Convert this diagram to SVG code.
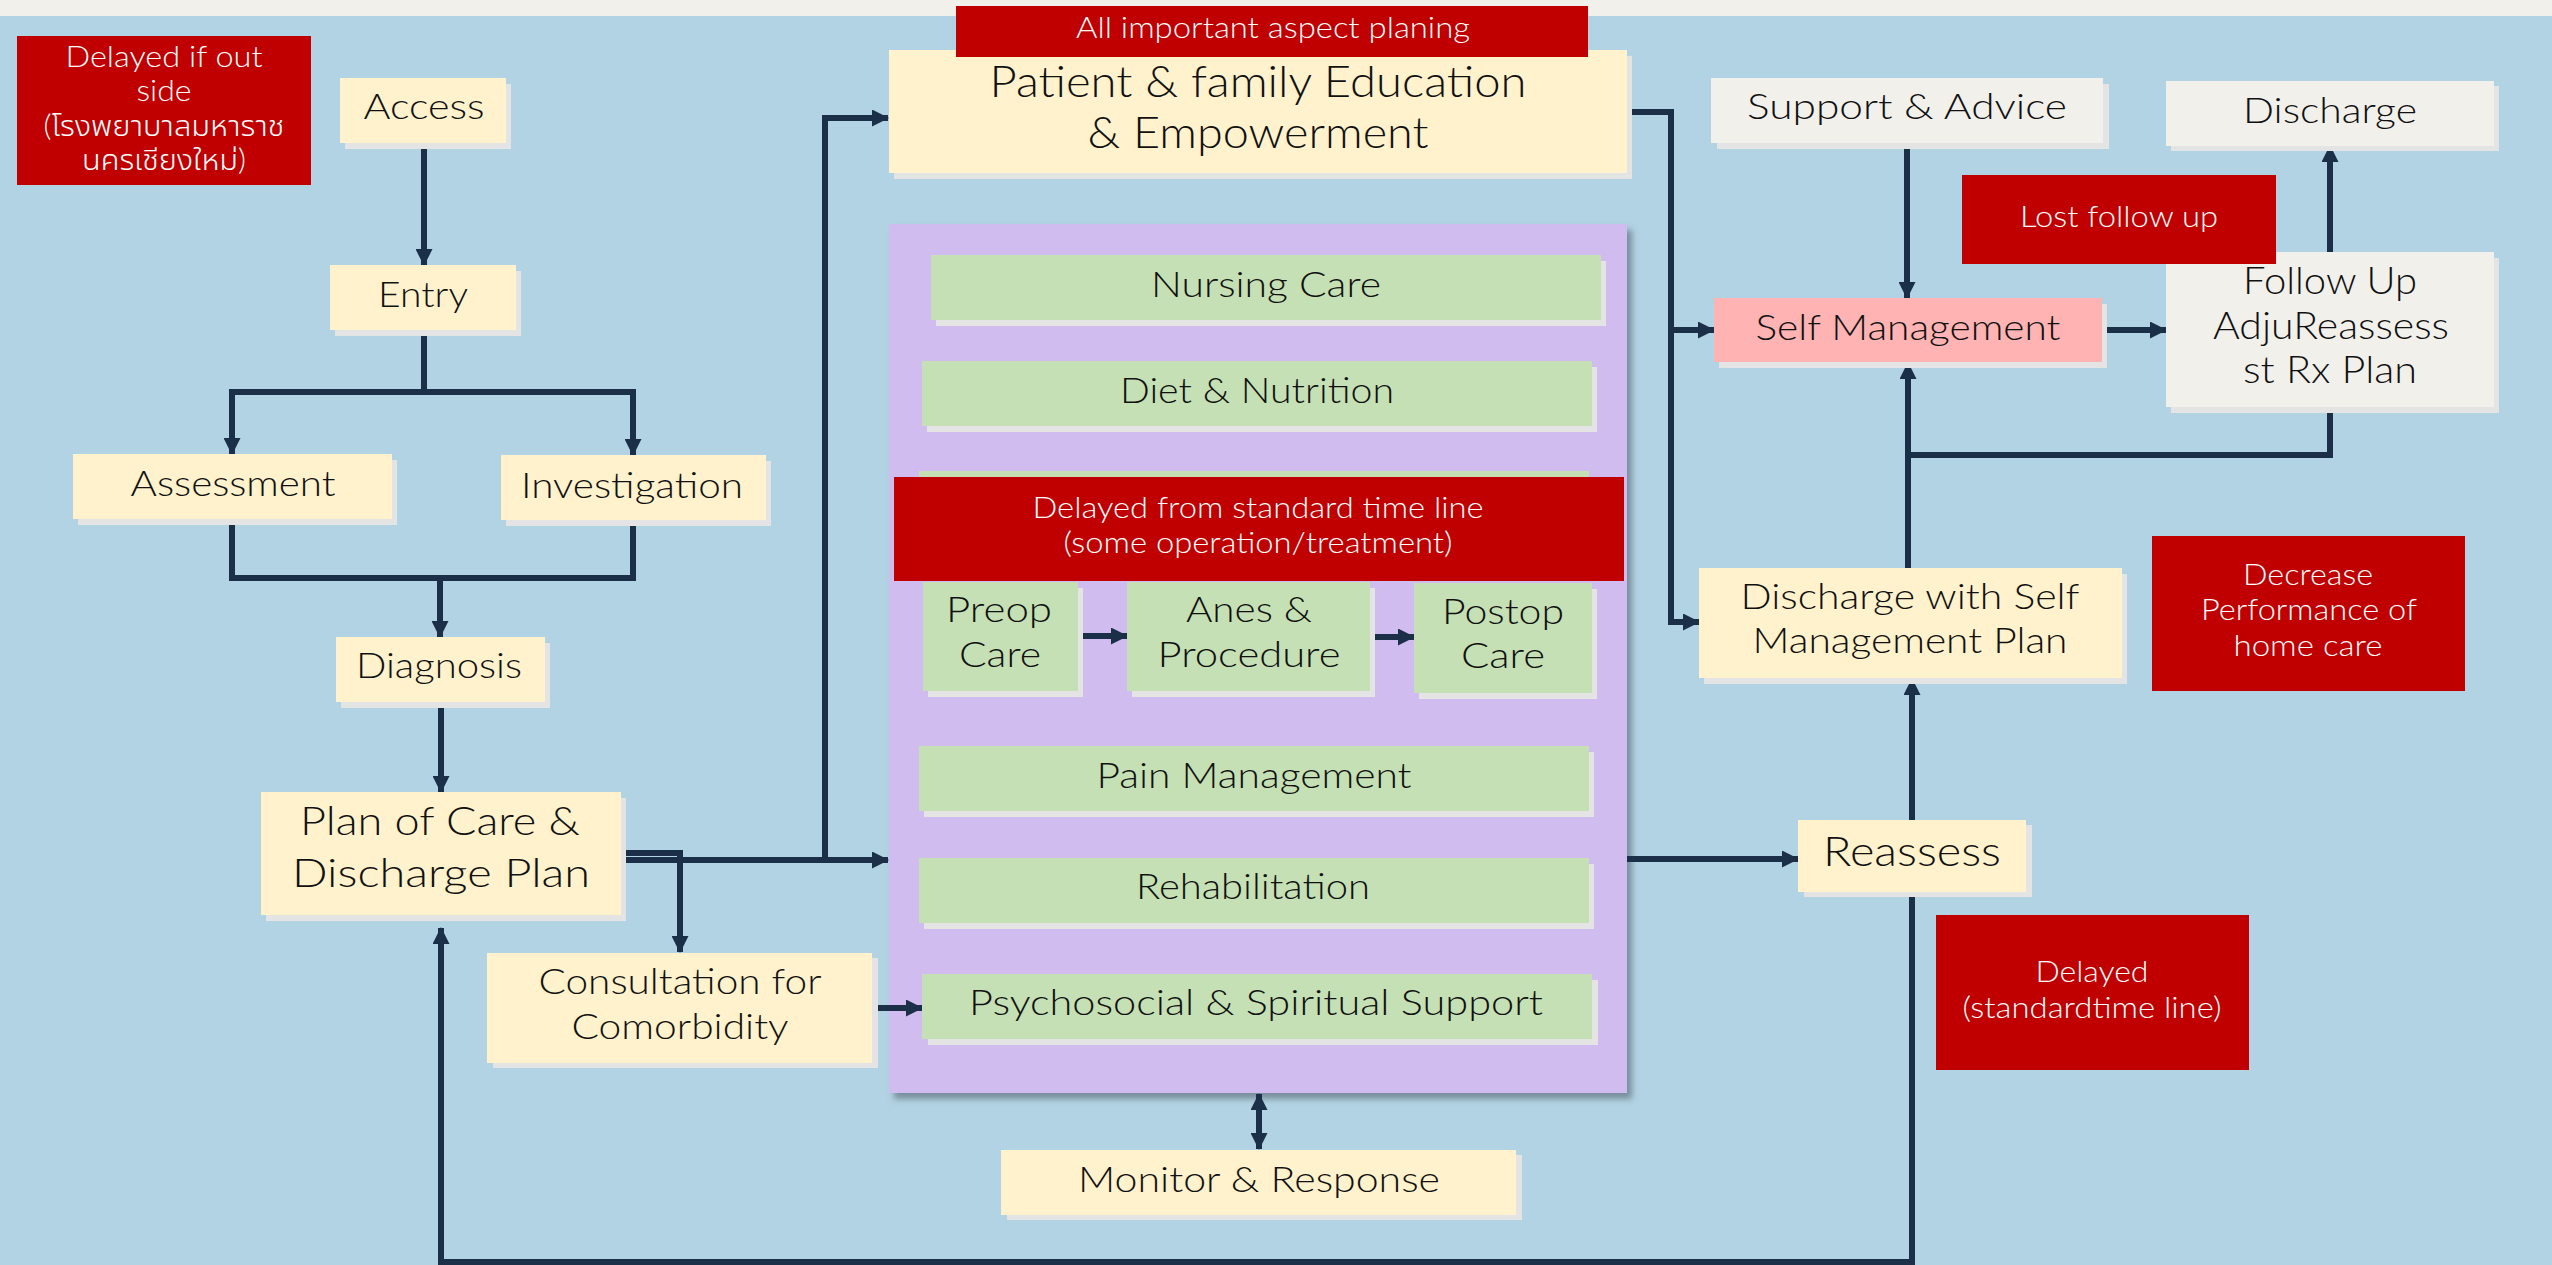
<svg xmlns="http://www.w3.org/2000/svg" width="2552" height="1265" viewBox="0 0 2552 1265">
  <style>
    .bg { fill: #B2D3E3; }
    .shadow { fill: #E4E4E4; }
    .cream { fill: #FFF2CC; }
    .green { fill: #C5E0B4; }
    .offwhite { fill: #F2F0EB; }
    .pink { fill: #FFB3B3; }
    .alert { fill: #C00000; }
    .purple { fill: #D1BCEF; }
    text { font-family: Lato, Roboto, "Noto Sans Thai", "Noto Sans", "DejaVu Sans", sans-serif; font-weight: 300; text-anchor: middle; }
    .t { fill: #111111; font-size: 36px; }
    .w { fill: #FFFFFF; font-size: 29px; }
    .conn { fill: none; stroke: #1B2F48; stroke-width: 6; }
  </style>
  <defs>
    <marker id="arrow" viewBox="0 0 17 17" refX="16" refY="8.5" markerWidth="17" markerHeight="17" markerUnits="userSpaceOnUse" orient="auto-start-reverse">
      <path d="M0,0 L17,8.5 L0,17 Z" fill="#1B2F48"/>
    </marker>
    <filter id="panelShadow" x="-5%" y="-5%" width="115%" height="115%">
      <feDropShadow dx="5" dy="6" stdDeviation="3" flood-color="#4A5560" flood-opacity="0.55"/>
    </filter>
  </defs>

  <!-- page -->
  <rect class="bg" x="0" y="0" width="2552" height="1265"/>
  <rect class="offwhite" x="0" y="0" width="2552" height="16"/>

  <!-- care activities panel -->
  <g id="care-panel">
    <rect class="purple" x="889" y="224" width="738" height="869" filter="url(#panelShadow)"/>
  </g>

  <!-- connectors -->
  <g id="connectors">
    <path class="conn" d="M424,143 V265" marker-end="url(#arrow)"/>
    <path class="conn" d="M424,330 V392 H232 V454" marker-end="url(#arrow)"/>
    <path class="conn" d="M424,392 H633 V455" marker-end="url(#arrow)"/>
    <path class="conn" d="M232,519 V578 H633 V520"/>
    <path class="conn" d="M440,578 V637" marker-end="url(#arrow)"/>
    <path class="conn" d="M441,702 V792" marker-end="url(#arrow)"/>
    <path class="conn" d="M621,853 H680 V952" marker-end="url(#arrow)"/>
    <path class="conn" d="M621,860 H888" marker-end="url(#arrow)"/>
    <path class="conn" d="M825,860 V118 H888" marker-end="url(#arrow)"/>
    <path class="conn" d="M872,1008 H922" marker-end="url(#arrow)"/>
    <path class="conn" d="M1078,636 H1127" marker-end="url(#arrow)"/>
    <path class="conn" d="M1370,637 H1414" marker-end="url(#arrow)"/>
    <path class="conn" d="M1259,1094 V1149" marker-start="url(#arrow)" marker-end="url(#arrow)"/>
    <path class="conn" d="M1627,112 H1671 V622 H1699" marker-end="url(#arrow)"/>
    <path class="conn" d="M1671,330 H1714" marker-end="url(#arrow)"/>
    <path class="conn" d="M1627,859 H1798" marker-end="url(#arrow)"/>
    <path class="conn" d="M1912,820 V679" marker-end="url(#arrow)"/>
    <path class="conn" d="M1908,568 V363" marker-end="url(#arrow)"/>
    <path class="conn" d="M2330,407 V455 H1908"/>
    <path class="conn" d="M1907,143 V298" marker-end="url(#arrow)"/>
    <path class="conn" d="M2102,330 H2166" marker-end="url(#arrow)"/>
    <path class="conn" d="M2330,252 V146" marker-end="url(#arrow)"/>
    <path class="conn" d="M1912,892 V1262 H441 V928" marker-end="url(#arrow)"/>
  </g>

  <!-- pathway nodes -->
  <g id="access">
    <rect class="shadow" x="345" y="84" width="166" height="65"/>
    <rect class="cream" x="340" y="78" width="166" height="65"/>
    <text class="t" x="424" y="119" textLength="121" lengthAdjust="spacingAndGlyphs">Access</text>
  </g>
  <g id="entry">
    <rect class="shadow" x="335" y="271" width="186" height="65"/>
    <rect class="cream" x="330" y="265" width="186" height="65"/>
    <text class="t" x="423" y="307" textLength="90" lengthAdjust="spacingAndGlyphs">Entry</text>
  </g>
  <g id="assessment">
    <rect class="shadow" x="78" y="460" width="319" height="65"/>
    <rect class="cream" x="73" y="454" width="319" height="65"/>
    <text class="t" x="233" y="496" textLength="205" lengthAdjust="spacingAndGlyphs">Assessment</text>
  </g>
  <g id="investigation">
    <rect class="shadow" x="506" y="461" width="265" height="65"/>
    <rect class="cream" x="501" y="455" width="265" height="65"/>
    <text class="t" x="632" y="498" textLength="222" lengthAdjust="spacingAndGlyphs">Investigation</text>
  </g>
  <g id="diagnosis">
    <rect class="shadow" x="341" y="643" width="209" height="65"/>
    <rect class="cream" x="336" y="637" width="209" height="65"/>
    <text class="t" x="439" y="678" textLength="166" lengthAdjust="spacingAndGlyphs">Diagnosis</text>
  </g>
  <g id="plan-of-care">
    <rect class="shadow" x="266" y="798" width="360" height="123"/>
    <rect class="cream" x="261" y="792" width="360" height="123"/>
    <text class="t" x="440" y="835" style="font-size:39px" textLength="280" lengthAdjust="spacingAndGlyphs">Plan of Care &amp;</text>
    <text class="t" x="441" y="887" style="font-size:39px" textLength="298" lengthAdjust="spacingAndGlyphs">Discharge Plan</text>
  </g>
  <g id="consultation">
    <rect class="shadow" x="493" y="958" width="385" height="110"/>
    <rect class="cream" x="487" y="953" width="385" height="110"/>
    <text class="t" x="680" y="994" textLength="283" lengthAdjust="spacingAndGlyphs">Consultation for</text>
    <text class="t" x="680" y="1039" textLength="217" lengthAdjust="spacingAndGlyphs">Comorbidity</text>
  </g>
  <g id="education">
    <rect class="shadow" x="894" y="56" width="738" height="123"/>
    <rect class="cream" x="889" y="50" width="738" height="123"/>
    <text class="t" x="1258" y="97" style="font-size:44px" textLength="537" lengthAdjust="spacingAndGlyphs">Patient &amp; family Education</text>
    <text class="t" x="1258" y="148" style="font-size:44px" textLength="341" lengthAdjust="spacingAndGlyphs">&amp; Empowerment</text>
  </g>

  <!-- activities inside the panel -->
  <g id="nursing-care">
    <rect class="shadow" x="936" y="261" width="670" height="65"/>
    <rect class="green" x="931" y="255" width="670" height="65"/>
    <text class="t" x="1266" y="297" textLength="230" lengthAdjust="spacingAndGlyphs">Nursing Care</text>
  </g>
  <g id="diet-nutrition">
    <rect class="shadow" x="927" y="367" width="670" height="65"/>
    <rect class="green" x="922" y="361" width="670" height="65"/>
    <text class="t" x="1257" y="403" textLength="274" lengthAdjust="spacingAndGlyphs">Diet &amp; Nutrition</text>
  </g>
  <g id="hidden-activity">
    <rect class="shadow" x="924" y="477" width="670" height="65"/>
    <rect class="green" x="919" y="471" width="670" height="65"/>
  </g>
  <g id="preop-care">
    <rect class="shadow" x="928" y="588" width="155" height="109"/>
    <rect class="green" x="923" y="582" width="155" height="109"/>
    <text class="t" x="999" y="622" textLength="106" lengthAdjust="spacingAndGlyphs">Preop</text>
    <text class="t" x="1000" y="667" textLength="82" lengthAdjust="spacingAndGlyphs">Care</text>
  </g>
  <g id="anes-procedure">
    <rect class="shadow" x="1132" y="588" width="243" height="109"/>
    <rect class="green" x="1127" y="582" width="243" height="109"/>
    <text class="t" x="1249" y="622" textLength="126" lengthAdjust="spacingAndGlyphs">Anes &amp;</text>
    <text class="t" x="1249" y="667" textLength="183" lengthAdjust="spacingAndGlyphs">Procedure</text>
  </g>
  <g id="postop-care">
    <rect class="shadow" x="1419" y="589" width="178" height="110"/>
    <rect class="green" x="1414" y="583" width="178" height="110"/>
    <text class="t" x="1503" y="624" textLength="122" lengthAdjust="spacingAndGlyphs">Postop</text>
    <text class="t" x="1503" y="668" textLength="84" lengthAdjust="spacingAndGlyphs">Care</text>
  </g>
  <g id="pain-management">
    <rect class="shadow" x="924" y="752" width="670" height="65"/>
    <rect class="green" x="919" y="746" width="670" height="65"/>
    <text class="t" x="1254" y="788" textLength="315" lengthAdjust="spacingAndGlyphs">Pain Management</text>
  </g>
  <g id="rehabilitation">
    <rect class="shadow" x="924" y="864" width="670" height="65"/>
    <rect class="green" x="919" y="858" width="670" height="65"/>
    <text class="t" x="1253" y="899" textLength="234" lengthAdjust="spacingAndGlyphs">Rehabilitation</text>
  </g>
  <g id="psychosocial">
    <rect class="shadow" x="928" y="980" width="670" height="65"/>
    <rect class="green" x="922" y="974" width="670" height="65"/>
    <text class="t" x="1256" y="1015" textLength="574" lengthAdjust="spacingAndGlyphs">Psychosocial &amp; Spiritual Support</text>
  </g>
  <g id="monitor-response">
    <rect class="shadow" x="1007" y="1155" width="515" height="65"/>
    <rect class="cream" x="1001" y="1150" width="515" height="65"/>
    <text class="t" x="1259" y="1192" textLength="362" lengthAdjust="spacingAndGlyphs">Monitor &amp; Response</text>
  </g>

  <!-- discharge side -->
  <g id="support-advice">
    <rect class="shadow" x="1717" y="84" width="392" height="65"/>
    <rect class="offwhite" x="1711" y="78" width="392" height="65"/>
    <text class="t" x="1907" y="119" textLength="320" lengthAdjust="spacingAndGlyphs">Support &amp; Advice</text>
  </g>
  <g id="discharge">
    <rect class="shadow" x="2171" y="86" width="328" height="65"/>
    <rect class="offwhite" x="2166" y="81" width="328" height="65"/>
    <text class="t" x="2330" y="123" textLength="174" lengthAdjust="spacingAndGlyphs">Discharge</text>
  </g>
  <g id="self-management">
    <rect class="shadow" x="1719" y="304" width="388" height="64"/>
    <rect class="pink" x="1714" y="298" width="388" height="64"/>
    <text class="t" x="1908" y="340" textLength="305" lengthAdjust="spacingAndGlyphs">Self Management</text>
  </g>
  <g id="follow-up">
    <rect class="shadow" x="2171" y="258" width="328" height="155"/>
    <rect class="offwhite" x="2166" y="252" width="328" height="155"/>
    <text class="t" x="2330" y="294" style="font-size:38px" textLength="174" lengthAdjust="spacingAndGlyphs">Follow Up</text>
    <text class="t" x="2331" y="339" style="font-size:38px" textLength="236" lengthAdjust="spacingAndGlyphs">AdjuReassess</text>
    <text class="t" x="2330" y="383" style="font-size:38px" textLength="174" lengthAdjust="spacingAndGlyphs">st Rx Plan</text>
  </g>
  <g id="discharge-self-management-plan">
    <rect class="shadow" x="1704" y="574" width="423" height="110"/>
    <rect class="cream" x="1699" y="568" width="423" height="110"/>
    <text class="t" x="1910" y="609" textLength="339" lengthAdjust="spacingAndGlyphs">Discharge with Self</text>
    <text class="t" x="1910" y="653" textLength="315" lengthAdjust="spacingAndGlyphs">Management Plan</text>
  </g>
  <g id="reassess">
    <rect class="shadow" x="1804" y="825" width="228" height="72"/>
    <rect class="cream" x="1798" y="820" width="228" height="72"/>
    <text class="t" x="1912" y="866" style="font-size:41px" textLength="178" lengthAdjust="spacingAndGlyphs">Reassess</text>
  </g>

  <!-- delay notes -->
  <g id="note-outside">
    <rect class="alert" x="17" y="36" width="294" height="149"/>
    <text class="w" x="164" y="67" textLength="197" lengthAdjust="spacingAndGlyphs">Delayed if out</text>
    <text class="w" x="164" y="101" textLength="55" lengthAdjust="spacingAndGlyphs">side</text>
    <text class="w" x="164" y="136" textLength="241" lengthAdjust="spacingAndGlyphs">(โรงพยาบาลมหาราช</text>
    <text class="w" x="164" y="170" textLength="164" lengthAdjust="spacingAndGlyphs">นครเชียงใหม่)</text>
  </g>
  <g id="note-planning">
    <rect class="alert" x="956" y="6" width="632" height="51"/>
    <text class="w" x="1273" y="38" textLength="394" lengthAdjust="spacingAndGlyphs">All important aspect planing</text>
  </g>
  <g id="note-timeline">
    <rect class="alert" x="894" y="477" width="730" height="104"/>
    <text class="w" x="1258" y="518" textLength="451" lengthAdjust="spacingAndGlyphs">Delayed from standard time line</text>
    <text class="w" x="1258" y="553" textLength="389" lengthAdjust="spacingAndGlyphs">(some operation/treatment)</text>
  </g>
  <g id="note-lost">
    <rect class="alert" x="1962" y="175" width="314" height="89"/>
    <text class="w" x="2119" y="227" textLength="198" lengthAdjust="spacingAndGlyphs">Lost follow up</text>
  </g>
  <g id="note-home-care">
    <rect class="alert" x="2152" y="536" width="313" height="155"/>
    <text class="w" x="2308" y="585" textLength="130" lengthAdjust="spacingAndGlyphs">Decrease</text>
    <text class="w" x="2309" y="620" textLength="216" lengthAdjust="spacingAndGlyphs">Performance of</text>
    <text class="w" x="2308" y="656" textLength="149" lengthAdjust="spacingAndGlyphs">home care</text>
  </g>
  <g id="note-reassess">
    <rect class="alert" x="1936" y="915" width="313" height="155"/>
    <text class="w" x="2092" y="982" textLength="113" lengthAdjust="spacingAndGlyphs">Delayed</text>
    <text class="w" x="2092" y="1018" textLength="259" lengthAdjust="spacingAndGlyphs">(standardtime line)</text>
  </g>
</svg>
